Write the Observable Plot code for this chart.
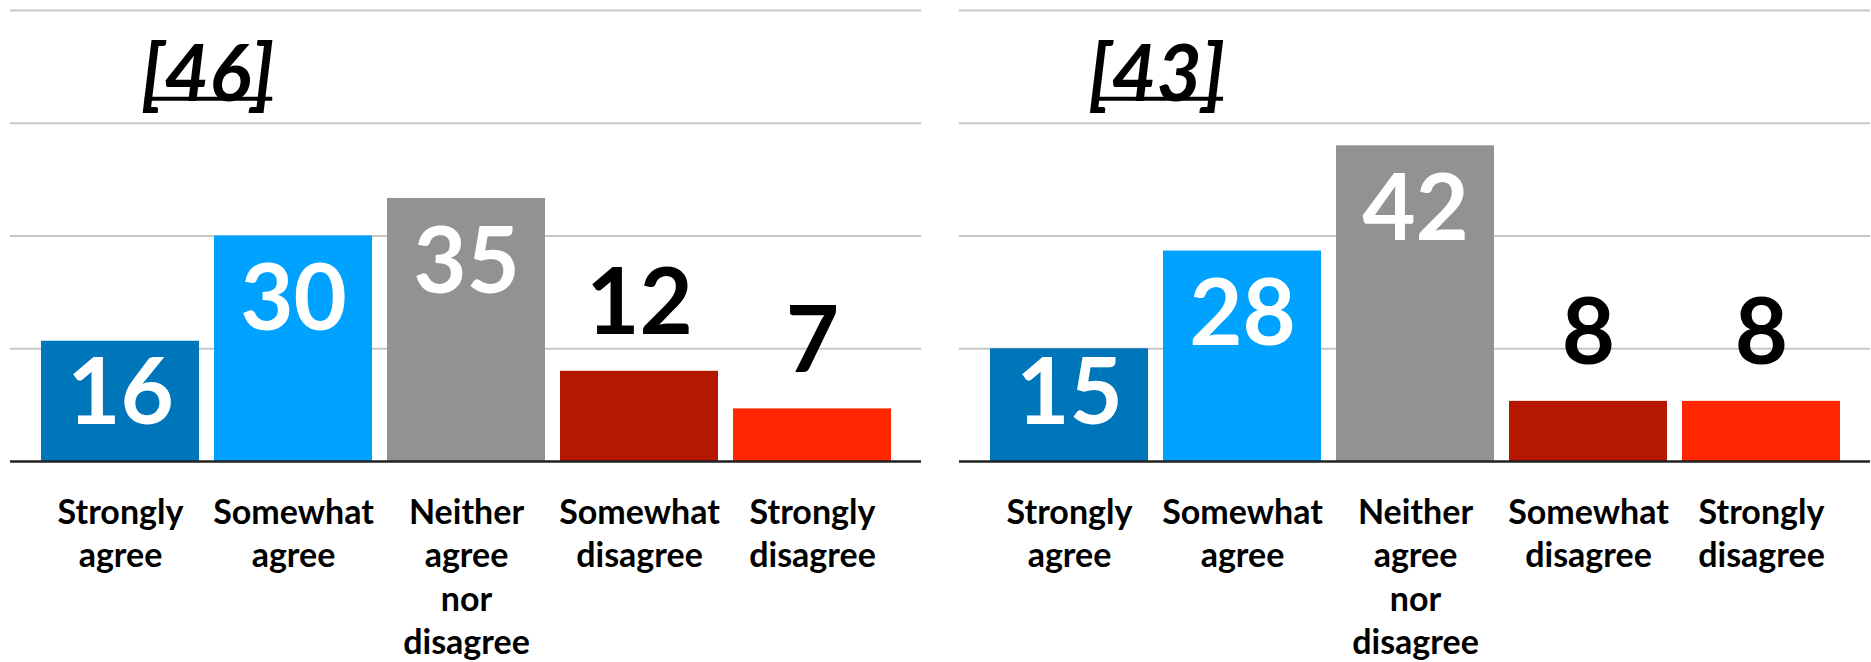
<!DOCTYPE html>
<html>
<head>
<meta charset="utf-8">
<script src="https://cdn.jsdelivr.net/npm/d3@7"></script>
<script src="https://cdn.jsdelivr.net/npm/@observablehq/plot@0.6"></script>
<style>
  html, body { margin: 0; padding: 0; background: #fff; }
  #chart svg { display: block; }
</style>
</head>
<body>
<div id="chart"></div>
<script>
// ---- data ----
const categories = ["Strongly agree", "Somewhat agree", "Neither agree nor disagree", "Somewhat disagree", "Strongly disagree"];
const categoryLabels = ["Strongly\nagree", "Somewhat\nagree", "Neither\nagree\nnor\ndisagree", "Somewhat\ndisagree", "Strongly\ndisagree"];
const panels = ["[46]", "[43]"];
const valuesPanel46 = [16, 30, 35, 12, 7];
const valuesPanel43 = [15, 28, 42, 8, 8];
const colors = ["#0076BA", "#00A2FF", "#929292", "#B51700", "#FF2600"];
const gridTicks = [15, 30, 45, 60];

const seriesValues = [valuesPanel46, valuesPanel43];
const rows = panels.flatMap((p, i) =>
  categories.map((c, j) => ({panel: p, category: c, value: seriesValues[i][j]}))
);
const labelOf = new Map(categories.map((c, i) => [c, categoryLabels[i]]));
const insideMin = 15;   // values at or above this get a white label inside the bar
const insideFloor = 17.5; // label anchor never lower than this for short bars

const font = "Lato, 'Open Sans', sans-serif";

const chart = Plot.plot({
  width: 1871,
  height: 662,
  marginLeft: 10,
  marginRight: 0,
  marginTop: 10,
  marginBottom: 201,
  style: {fontFamily: font, background: "white"},
  fx: {domain: panels, paddingInner: 0.04, paddingOuter: 0, axis: null, label: null},
  x: {domain: categories, paddingInner: 0.087, paddingOuter: 0.17, axis: null},
  y: {domain: [0, 60], axis: null},
  color: {domain: categories, range: colors},
  marks: [
    Plot.ruleY(gridTicks, {stroke: "#c6c6c6", strokeWidth: 2}),
    Plot.barY(rows, {fx: "panel", x: "category", y: "value", fill: "category"}),
    Plot.ruleY([0], {stroke: "#222", strokeWidth: 2.5}),
    // values inside tall bars
    Plot.text(rows.filter(d => d.value >= insideMin), {
      fx: "panel", x: "category", y: d => Math.max(d.value, insideFloor),
      text: d => String(d.value), fill: "white", lineAnchor: "top", dy: 29,
      fontSize: 92, fontWeight: "bold", fontFamily: font
    }),
    // values above short bars
    Plot.text(rows.filter(d => d.value < insideMin), {
      fx: "panel", x: "category", y: "value",
      text: d => String(d.value), fill: "black", lineAnchor: "bottom", dy: -37,
      fontSize: 92, fontWeight: "bold", fontFamily: font
    }),
    // category labels under each panel
    Plot.text(categories, {
      x: d => d, text: d => labelOf.get(d), frameAnchor: "bottom",
      lineAnchor: "top", dy: 32, fontSize: 34, lineHeight: 1.27,
      fontWeight: "bold", fill: "black", fontFamily: font
    }),
    // panel titles
    Plot.text(panels, {
      fx: d => d, text: d => d,
      frameAnchor: "top-left", textAnchor: "middle", lineAnchor: "bottom", dx: 197, dy: 90,
      fontSize: 78, fontStyle: "italic", fontWeight: "bold", fill: "black", fontFamily: font
    })
  ]
});

document.getElementById("chart").appendChild(chart);

// underline each panel title, measured from the rendered text itself
d3.select(chart).selectAll("text")
  .filter(function() { return this.textContent.startsWith("["); })
  .each(function() {
    const b = this.getBBox();
    const baseline = b.y + b.height * 0.80;
    d3.select(this.parentNode).append("line")
      .attr("transform", this.getAttribute("transform"))
      .attr("x1", b.x + 4).attr("x2", b.x + b.width - 2)
      .attr("y1", baseline).attr("y2", baseline)
      .attr("stroke", "black").attr("stroke-width", 4);
  });
</script>
</body>
</html>
